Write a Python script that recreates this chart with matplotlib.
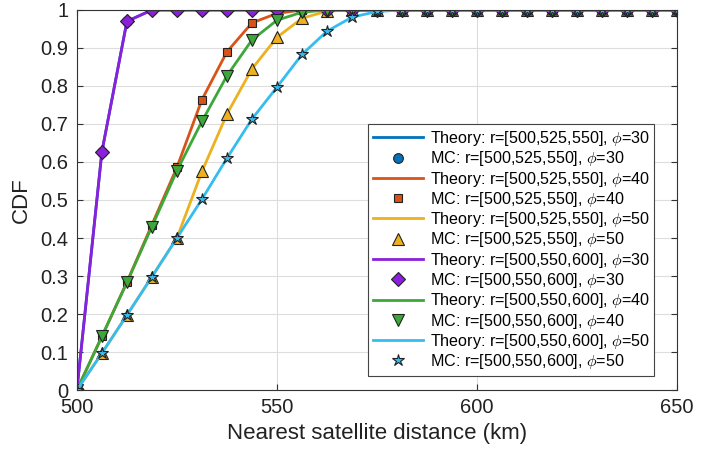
import numpy as np
import matplotlib.pyplot as plt

plt.rcParams['font.family'] = ['Liberation Sans', 'DejaVu Sans']
plt.rcParams['mathtext.fontset'] = 'cm'

# distance grid (km)
d = np.arange(0, 25) * 6.25 + 500

# CDF values (tail is 1)
cdf_a30 = [0, 0.627, 0.97, 1, 1, 1, 1, 1, 1, 1, 1, 1, 1, 1, 1, 1, 1, 1, 1, 1, 1, 1, 1, 1, 1]
cdf_a40 = [0, 0.141, 0.284, 0.435, 0.586, 0.764, 0.89, 0.966, 0.991, 1, 1, 1, 1, 1, 1, 1, 1, 1, 1, 1, 1, 1, 1, 1, 1]
cdf_a50 = [0, 0.097, 0.197, 0.298, 0.40, 0.575, 0.726, 0.845, 0.928, 0.978, 0.997, 1, 1, 1, 1, 1, 1, 1, 1, 1, 1, 1, 1, 1, 1]
cdf_b30 = [0, 0.627, 0.97, 1, 1, 1, 1, 1, 1, 1, 1, 1, 1, 1, 1, 1, 1, 1, 1, 1, 1, 1, 1, 1, 1]
cdf_b40 = [0, 0.141, 0.283, 0.43, 0.577, 0.707, 0.827, 0.921, 0.973, 0.994, 1, 1, 1, 1, 1, 1, 1, 1, 1, 1, 1, 1, 1, 1, 1]
cdf_b50 = [0, 0.097, 0.197, 0.298, 0.40, 0.502, 0.61, 0.713, 0.797, 0.883, 0.944, 0.981, 0.996, 1, 1, 1, 1, 1, 1, 1, 1, 1, 1, 1, 1]

series = [
    ('r=[500,525,550]', 30, cdf_a30, '#0072BD', 'o', 7),
    ('r=[500,525,550]', 40, cdf_a40, '#D95319', 's', 6),
    ('r=[500,525,550]', 50, cdf_a50, '#EDB120', '^', 8),
    ('r=[500,550,600]', 30, cdf_b30, '#8B1FDB', 'D', 7),
    ('r=[500,550,600]', 40, cdf_b40, '#3CA83A', 'v', 8),
    ('r=[500,550,600]', 50, cdf_b50, '#35BDEF', '*', 9),
]

fig = plt.figure(figsize=(7.12, 4.53), dpi=100)
ax = fig.add_axes([0.108, 0.139, 0.843, 0.839])

for r, phi, cdf, col, mk, ms in series:
    ax.plot(d, cdf, color=col, lw=2, label='Theory: ' + r + r', $\phi$=' + str(phi))
    ax.plot(d, cdf, ls='none', marker=mk, ms=ms, mfc=col, mec='#222222', mew=0.8,
            label='MC: ' + r + r', $\phi$=' + str(phi))

ax.set_xlim(500, 650)
ax.set_ylim(0, 1)
ax.set_xticks([500, 550, 600, 650])
ax.set_yticks(np.arange(0, 1.01, 0.1))
ax.set_yticklabels(['0', '0.1', '0.2', '0.3', '0.4', '0.5', '0.6', '0.7', '0.8', '0.9', '1'])
ax.grid(True, color='#dddddd', lw=0.8)
ax.set_axisbelow(True)
ax.tick_params(labelsize=14.5, direction='in', length=4, color='#333333', top=True, right=True,
               pad=6, labelcolor='#222222')
for s in ax.spines.values():
    s.set_color('#333333')
ax.set_xlabel('Nearest satellite distance (km)', fontsize=16, color='#222222', labelpad=4)
ax.set_ylabel('CDF', fontsize=16, color='#222222', labelpad=6)

leg = ax.legend(loc='lower right', bbox_to_anchor=(0.962, 0.037), fontsize=11.6, frameon=True,
                fancybox=False, edgecolor='#444444', labelspacing=0.08, handlelength=3.1,
                borderaxespad=0, borderpad=0.3, handletextpad=0.4, framealpha=1)
leg.get_frame().set_linewidth(0.8)

fig.savefig('out.png', dpi=100)
